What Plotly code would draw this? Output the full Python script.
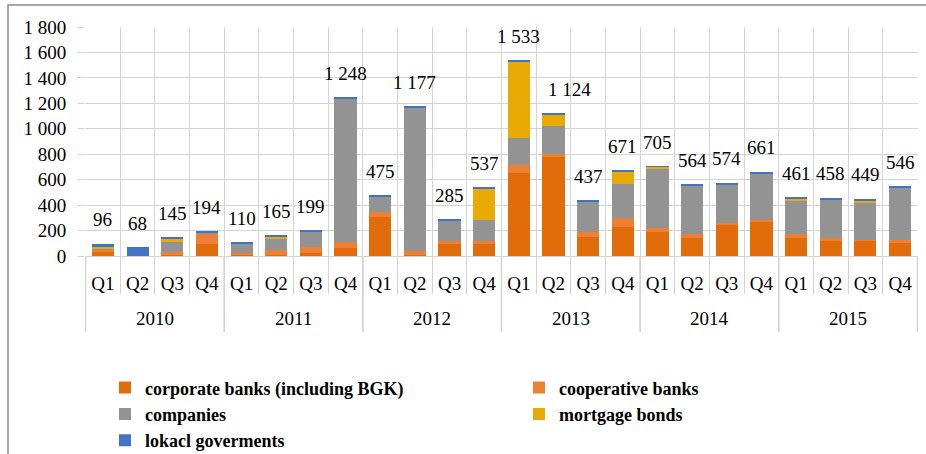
import plotly.graph_objects as go

years = ["2010"] * 4 + ["2011"] * 4 + ["2012"] * 4 + ["2013"] * 4 + ["2014"] * 4 + ["2015"] * 4
quarters = ["Q1", "Q2", "Q3", "Q4"] * 6

corporate = [38, 2, 10, 95, 10, 10, 26, 60, 305, 10, 92, 97, 655, 778, 152, 228, 189, 144, 244, 265, 141, 118, 118, 100]
cooperative = [14, 1, 25, 85, 12, 40, 45, 50, 38, 30, 26, 21, 60, 26, 33, 68, 29, 26, 18, 21, 29, 21, 10, 26]
companies = [3, 0, 75, 2, 80, 88, 120, 1130, 124, 1130, 162, 162, 215, 220, 244, 267, 472, 383, 301, 365, 263, 306, 290, 410]
mortgage = [14, 0, 25, 0, 0, 15, 0, 0, 0, 0, 0, 249, 597, 92, 0, 100, 10, 0, 0, 0, 18, 0, 18, 0]
local_gov = [27, 65, 10, 12, 8, 12, 8, 8, 8, 7, 5, 8, 6, 8, 8, 8, 5, 11, 11, 10, 10, 13, 13, 10]
totals = [96, 68, 145, 194, 110, 165, 199, 1248, 475, 1177, 285, 537, 1533, 1124, 437, 671, 705, 564, 574, 661, 461, 458, 449, 546]

series = [
    ("corporate banks (including BGK)", corporate, "#E36C0A"),
    ("cooperative banks", cooperative, "#EE8036"),
    ("companies", companies, "#939393"),
    ("mortgage bonds", mortgage, "#E9AA05"),
    ("lokacl goverments", local_gov, "#4472C4"),
]

FONT = "Liberation Serif"
GRID = "#D4D4D4"

cats = [f"{y} {q}" for y, q in zip(years, quarters)]

fig = go.Figure()
for name, vals, color in series:
    fig.add_trace(go.Bar(
        x=cats, y=vals, name=name,
        marker=dict(color=color, line=dict(width=0)),
    ))

# total labels above the stacks
for i, t in enumerate(totals):
    fig.add_annotation(
        x=i, y=t, text=f"{t:,}".replace(",", " "),
        showarrow=False, yanchor="middle", yshift=24,
        xshift=16 if t == 1124 else 0,
        font=dict(family=FONT, size=19, color="black"),
    )

L, R, T, B = 85, 8, 27, 198
W, H = 926, 454
pw, ph = W - L - R, H - T - B

# year group labels and dividers
year_names = list(dict.fromkeys(years))
for y in year_names:
    idx = [i for i, yy in enumerate(years) if yy == y]
    fig.add_annotation(
        x=(idx[0] + idx[-1]) / 2, xref="x", y=-(318 - (H - B)) / ph, yref="paper",
        text=y, showarrow=False, yanchor="middle",
        font=dict(family=FONT, size=19, color="black"),
    )
    for b in (idx[0] - 0.5, idx[-1] + 0.5):
        fig.add_shape(type="line", xref="x", yref="paper", x0=b, x1=b,
                      y0=0, y1=-(332 - (H - B)) / ph,
                      line=dict(color=GRID, width=1.3))

# outer chart border (top and left edges visible)
fig.add_shape(type="rect", xref="paper", yref="paper",
              x0=(8 - L) / pw, x1=(W + 20 - L) / pw,
              y0=(H - B - (H + 20)) / ph, y1=(H - B - 5) / ph,
              line=dict(color="#8C8C8C", width=1.5), layer="below")

fig.update_layout(
    width=W, height=H,
    margin=dict(l=L, r=R, t=T, b=B, autoexpand=False),
    barmode="stack", bargap=0.36,
    plot_bgcolor="white", paper_bgcolor="white",
    separators=". ",
    font=dict(family=FONT, size=18, color="black"),
    showlegend=True,
    legend=dict(
        orientation="h", traceorder="normal",
        x=0.024, xanchor="left", y=-0.495, yanchor="top",
        entrywidth=369, font=dict(family=FONT, size=18, color="black", weight="bold"),
        itemwidth=30, bgcolor="rgba(0,0,0,0)",
    ),
    xaxis=dict(
        type="category", tickson="boundaries", ticks="outside", ticklen=37,
        tickcolor=GRID, tickwidth=1.3, showgrid=True, gridcolor=GRID, gridwidth=1.3,
        showline=True, linecolor=GRID, linewidth=1.3, mirror=False,
        tickmode="array", tickvals=cats, ticktext=quarters,
        ticklabelstandoff=10,
        tickfont=dict(family=FONT, size=19, color="black"),
    ),
    yaxis=dict(
        range=[0, 1800], dtick=200, tickformat=",d",
        showgrid=True, gridcolor=GRID, gridwidth=1.3,
        ticks="outside", ticklen=6, tickcolor=GRID, tickwidth=1.3,
        ticklabelstandoff=8, zeroline=False, showline=False,
        tickfont=dict(family=FONT, size=19, color="black"),
    ),
)

fig.write_html("out.html", config={"displayModeBar": False},
               post_script="document.body.style.margin='0';")
